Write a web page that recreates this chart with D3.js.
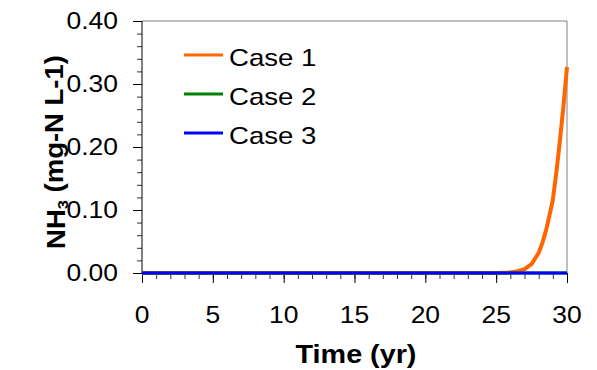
<!DOCTYPE html>
<html>
<head>
<meta charset="utf-8">
<script src="https://cdn.jsdelivr.net/npm/d3@7"></script>
<style>
  body { margin: 0; background: #fff; }
  text { font-family: "Liberation Sans", Arial, sans-serif; fill: #000; }
</style>
</head>
<body>
<svg id="chart" width="597" height="370"></svg>
<script>
// data
const years = [0,1,2,3,4,5,6,7,8,9,10,11,12,13,14,15,16,17,18,19,20,21,22,23,24,25,
               25.5,26,26.5,27,27.5,28,28.25,28.5,28.75,29,29.25,29.5,29.75,30];
const case1 = [0,0,0,0,0,0,0,0,0,0,0,0,0,0,0,0,0,0,0,0,0,0,0,0,0,0,
               0.0005,0.001,0.003,0.006,0.014,0.032,0.047,0.066,0.09,0.116,0.16,0.21,0.265,0.327];
const case2 = years.map(() => 0);
const case3 = years.map(() => 0);
const seriesNames = ["Case 1", "Case 2", "Case 3"];
const seriesColors = ["#FF6600", "#008000", "#0000FF"];
const xTicks = [0, 5, 10, 15, 20, 25, 30];
const yTicks = [0, 0.1, 0.2, 0.3, 0.4];

const svg = d3.select("#chart");
const pLeft = 142, pRight = 567, pTop = 21, pBottom = 273;

const x = d3.scaleLinear().domain([0, 30]).range([pLeft, pRight]);
const y = d3.scaleLinear().domain([0, 0.4]).range([pBottom, pTop]);

// helper: horizontally stretched text (the picture's font is a bit wide)
function label(g, tx, ty, str, opts) {
    const sx = opts.stretch || 1.15;
    const t = g.append("text")
        .attr("transform", `translate(${tx},${ty})` + (opts.rot ? ` rotate(${opts.rot})` : "") + ` scale(${sx},1)`)
        .attr("text-anchor", opts.anchor || "start")
        .style("font-size", opts.size + "px")
        .style("font-weight", opts.bold ? "bold" : "normal");
    if (opts.dy) t.attr("dy", opts.dy);
    return t.text(str);
}

// frame: top and right in grey
svg.append("line").attr("x1", pLeft).attr("x2", pRight).attr("y1", pTop).attr("y2", pTop)
    .attr("stroke", "#808080").attr("stroke-width", 1);
svg.append("line").attr("x1", pRight).attr("x2", pRight).attr("y1", pTop).attr("y2", pBottom)
    .attr("stroke", "#808080").attr("stroke-width", 1);

// y axis with minor ticks
svg.append("g").attr("transform", `translate(${pLeft},0)`)
    .call(d3.axisLeft(y).tickValues(d3.range(0, 0.4001, 0.02)).tickSize(5).tickFormat(""))
    .call(g => g.select(".domain").remove())
    .selectAll("line").attr("stroke", "#333");
svg.append("g").attr("transform", `translate(${pLeft},0)`)
    .call(d3.axisLeft(y).tickValues(yTicks).tickSize(9).tickFormat(""))
    .call(g => g.select(".domain").attr("stroke", "#000").attr("d", `M0,${pTop}V${pBottom}`))
    .selectAll("line").attr("stroke", "#000");

// x axis with minor ticks
svg.append("g").attr("transform", `translate(0,${pBottom})`)
    .call(d3.axisBottom(x).tickValues(d3.range(0, 31, 1)).tickSize(6).tickFormat(""))
    .call(g => g.select(".domain").remove())
    .selectAll("line").attr("stroke", "#333");
svg.append("g").attr("transform", `translate(0,${pBottom})`)
    .call(d3.axisBottom(x).tickValues(xTicks).tickSize(10).tickFormat(""))
    .call(g => g.select(".domain").attr("stroke", "#000").attr("d", `M${pLeft},0H${pRight}`))
    .selectAll("line").attr("stroke", "#000");

// tick labels
const labels = svg.append("g");
yTicks.forEach(v => label(labels, 118, y(v), d3.format(".2f")(v), {size: 23, anchor: "end", dy: "0.35em"}));
xTicks.forEach(v => label(labels, x(v), 323, String(v), {size: 23, anchor: "middle"}));

// axis titles
label(labels, 356, 363, "Time (yr)", {size: 25, bold: true, anchor: "middle"});
const yt = label(labels, 65, 152, "", {size: 25, bold: true, anchor: "middle", rot: -90, stretch: 1.1});
yt.append("tspan").text("NH");
yt.append("tspan").text("3").style("font-size", "15px").attr("dy", "0.2em");
yt.append("tspan").text(" (mg-N L-1)").attr("dy", "-0.2em");

// lines
const line = d3.line().x((d, i) => x(years[i])).y(d => y(d));
[case1, case2, case3].forEach((s, k) => {
    svg.append("path").datum(s)
        .attr("fill", "none")
        .attr("stroke", seriesColors[k])
        .attr("stroke-width", k === 0 ? 4 : 3)
        .attr("d", line);
});

// legend
const legend = svg.append("g");
seriesNames.forEach((name, k) => {
    const ly = 55 + k * 39;
    legend.append("line").attr("x1", 184).attr("x2", 223).attr("y1", ly).attr("y2", ly)
        .attr("stroke", seriesColors[k]).attr("stroke-width", 3);
    label(legend, 229, ly + 11, name, {size: 24});
});
</script>
</body>
</html>
